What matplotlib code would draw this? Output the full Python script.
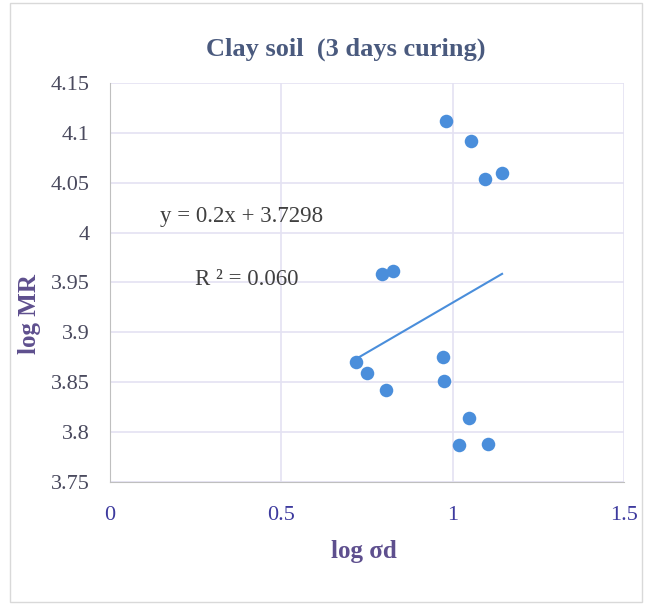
import numpy as np
import matplotlib.pyplot as plt
from matplotlib.patches import Rectangle

# data
log_sd = [0.980, 1.053, 1.094, 1.144, 0.794, 0.826, 0.718, 0.750, 0.805,
          0.972, 0.975, 1.048, 1.018, 1.103]
log_mr = [4.112, 4.092, 4.054, 4.060, 3.958, 3.961, 3.870, 3.859, 3.842,
          3.875, 3.851, 3.814, 3.787, 3.788]

# trendline as printed on the chart
slope = 0.2
intercept = 3.7298
r2_text = "R ² = 0.060"
eq_text = "y = 0.2x + 3.7298"

x_ticks = [0, 0.5, 1, 1.5]
x_ticklabels = ["0", "0.5", "1", "1.5"]
y_ticks = [3.75, 3.8, 3.85, 3.9, 3.95, 4, 4.05, 4.1, 4.15]
y_ticklabels = ["3.75", "3.8", "3.85", "3.9", "3.95", "4", "4.05", "4.1", "4.15"]

serif = ["Liberation Serif", "DejaVu Serif"]
dot_color = "#4a8edb"
grid_color = "#e4e2f2"

fig = plt.figure(figsize=(6.48, 6.05), dpi=100)
ax = fig.add_axes([0.170, 0.2033, 0.793, 0.6597])

# outer chart border
fig.patches.append(Rectangle((0.015, 0.005), 0.975, 0.99, transform=fig.transFigure,
                             fill=False, edgecolor="#d9d9d9", linewidth=1))

ax.scatter(log_sd, log_mr, s=95, color=dot_color, zorder=3, linewidths=0)

xl = np.array([min(log_sd), max(log_sd)])
ax.plot(xl, slope * xl + intercept, color=dot_color, linewidth=1.5, zorder=2)

ax.set_xlim(0, 1.5)
ax.set_ylim(3.75, 4.15)
ax.set_xticks(x_ticks)
ax.set_xticklabels(x_ticklabels)
ax.set_yticks(y_ticks)
ax.set_yticklabels(y_ticklabels)
ax.grid(True, color=grid_color, linewidth=1.2)
ax.set_axisbelow(True)

for s in ["top", "right"]:
    ax.spines[s].set_visible(False)
ax.spines["left"].set_color("#bfbfbf")
ax.spines["bottom"].set_color("#bfbfbf")
ax.tick_params(axis="y", length=0, pad=15)
ax.tick_params(axis="x", length=0, pad=17)
for lab in ax.get_yticklabels():
    lab.set_fontfamily(serif)
    lab.set_fontsize(16)
    lab.set_color("#4a4a5e")
for lab in ax.get_xticklabels():
    lab.set_fontfamily(serif)
    lab.set_fontsize(16)
    lab.set_color("#3d3a9e")

ax.set_title("Clay soil  (3 days curing)", fontfamily=serif, fontsize=19,
             fontweight="bold", color="#4a5a7e", x=0.458, pad=20)
ax.set_xlabel("log σd", fontfamily=serif, fontsize=18, fontweight="bold",
              color="#5e4f8e")
ax.xaxis.set_label_coords(0.494, -0.145)
ax.set_ylabel("log MR", fontfamily=serif, fontsize=18, fontweight="bold",
              color="#5e4f8e")
ax.yaxis.set_label_coords(-0.134, 0.42)

ax.text(0.145, 4.0104, eq_text, fontfamily=serif, fontsize=16.5, color="#404040")
ax.text(0.248, 3.947, r2_text, fontfamily=serif, fontsize=16.5, color="#404040")

plt.savefig("out.png", dpi=100)
